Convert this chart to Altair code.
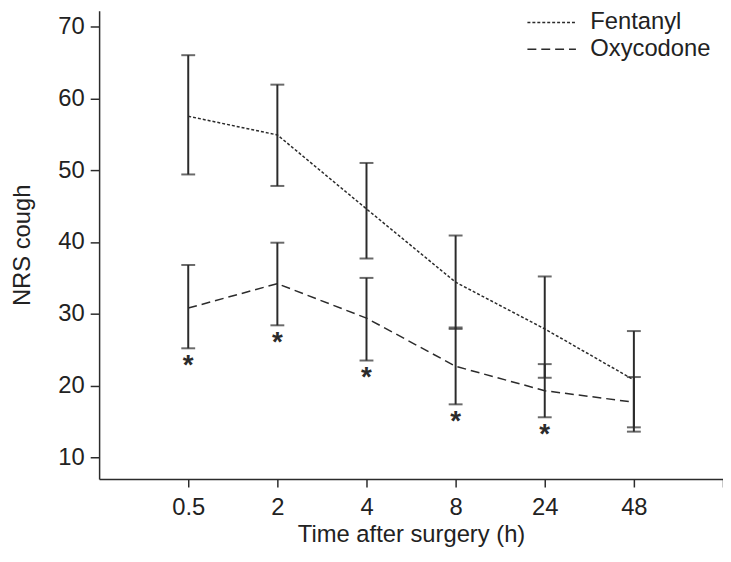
import json
import altair as alt
import pandas as pd

# ---- data ----
times = ["0.5", "2", "4", "8", "24", "48"]
series_names = ["Fentanyl", "Oxycodone"]

fent_mean = [57.5, 54.9, 44.6, 34.4, 27.9, 20.8]
fent_hi = [66.0, 61.9, 51.0, 40.9, 35.2, 27.6]
fent_lo = [49.4, 47.8, 37.7, 27.9, 21.1, 13.6]

oxy_mean = [30.8, 34.2, 29.4, 22.7, 19.3, 17.7]
oxy_hi = [36.8, 39.9, 35.0, 28.1, 23.0, 21.2]
oxy_lo = [25.2, 28.4, 23.5, 17.4, 15.6, 14.2]

significant = [True, True, True, True, True, False]

y_ticks = [10, 20, 30, 40, 50, 60, 70]

# ---- table ----
rows = []
for s, means, his, los in [
    ("Fentanyl", fent_mean, fent_hi, fent_lo),
    ("Oxycodone", oxy_mean, oxy_hi, oxy_lo),
]:
    for i, t in enumerate(times):
        rows.append({
            "series": s, "idx": i, "time": t,
            "mean": means[i], "hi": his[i], "lo": los[i],
            "sig": significant[i] and s == "Oxycodone",
        })
df = pd.DataFrame(rows)

FONT = "Liberation Sans"
FS = 24
INK = "#2b2b2b"

label_expr = ("datum.value >= 0 && datum.value < %d ? %s[datum.value] : ''"
              % (len(times), json.dumps(times)))

x_enc = alt.X(
    "idx:Q",
    scale=alt.Scale(domain=[-1, len(times)], nice=False, zero=False),
    axis=alt.Axis(
        values=list(range(0, len(times) + 1)),
        labelExpr=label_expr,
        title="Time after surgery (h)",
        grid=False, tickSize=8, labelPadding=9, titlePadding=3,
    ),
)
y_scale = alt.Scale(domain=[7, 72.2], nice=False, zero=False)
y_axis = alt.Axis(values=y_ticks, title="NRS cough", grid=False,
                  tickSize=9, labelPadding=6, titlePadding=24)

base = alt.Chart(df)

lines = base.mark_line(color=INK, strokeWidth=1.5).encode(
    x=x_enc,
    y=alt.Y("mean:Q", scale=y_scale, axis=y_axis),
    strokeDash=alt.StrokeDash(
        "series:N",
        scale=alt.Scale(domain=series_names, range=[[3, 2], [9, 5]]),
        legend=alt.Legend(
            title=None, orient="none", legendX=444, legendY=-1,
            symbolType="M-2,0H2", symbolSize=600, symbolStrokeWidth=1.5,
            symbolStrokeColor=INK, labelFont=FONT, labelFontSize=FS,
            labelColor="#222", labelOffset=26, rowPadding=2, padding=0,
        ),
    ),
)

rules = base.mark_rule(color=INK, strokeWidth=2).encode(
    x=x_enc,
    y=alt.Y("lo:Q", scale=y_scale, axis=y_axis),
    y2="hi:Q",
)

caps_hi = base.mark_tick(color=INK, orient="horizontal", size=14, thickness=2).encode(
    x=x_enc, y=alt.Y("hi:Q", scale=y_scale, axis=y_axis))
caps_lo = base.mark_tick(color=INK, orient="horizontal", size=14, thickness=2).encode(
    x=x_enc, y=alt.Y("lo:Q", scale=y_scale, axis=y_axis))

stars = base.transform_filter("datum.sig").mark_text(
    text="*", font=FONT, fontSize=28, fontWeight="bold", color=INK,
    baseline="alphabetic", dy=26
).encode(x=x_enc, y=alt.Y("lo:Q", scale=y_scale, axis=y_axis))

chart = alt.layer(lines, rules, caps_hi, caps_lo, stars).properties(
    width=630, height=473,
    autosize=alt.AutoSizeParams(type="none"),
    padding={"left": 92, "top": 0, "right": 0, "bottom": 73},
).configure_view(stroke=None).configure_axis(
    labelFont=FONT, titleFont=FONT, labelFontSize=FS, titleFontSize=FS,
    titleFontWeight="normal", labelColor="#222", titleColor="#222",
    domainColor=INK, tickColor=INK, domainWidth=1.5, tickWidth=1.5,
)

chart.save("out.html", embed_options={"renderer": "svg", "actions": False})
